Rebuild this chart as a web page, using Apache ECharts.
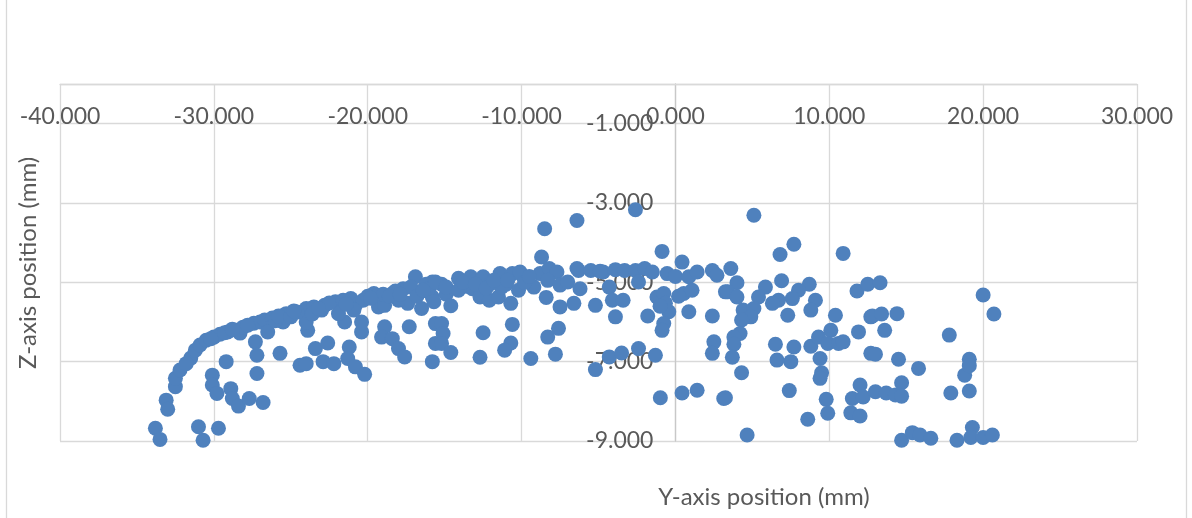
<!DOCTYPE html>
<html>
<head>
<meta charset="utf-8">
<script src="https://cdn.jsdelivr.net/npm/echarts@6/dist/echarts.min.js"></script>
<style>html,body{margin:0;padding:0;background:#fff;}#c{width:1192px;height:518px;}</style>
</head>
<body>
<div id="c"></div>
<script>
// Y-axis position (mm) values (horizontal)
const yPosition = [
-33.8,-33.5,-33.1,-33.0,-32.5,-32.5,-32.2,-31.5,-31.2,-30.9,-30.5,-30.0,-29.6,-29.1,-28.5,-28.3,-28.1,-27.4,-27.0,-26.7,-26.2,-26.5,-25.5,-25.3,-27.3,-27.2,-27.2,-25.7,-29.2,-30.1,-30.1,-29.8,-28.9,-28.8,-28.4,-27.7,-26.8,-31.0,-30.7,-29.7,
-31.8,-30.2,-29.3,-28.8,-27.8,-26.0,-25.8,
-24.4,-24.0,-23.4,-22.6,-22.9,-22.2,-21.2,-21.3,-20.8,-20.2,-20.4,-20.4,-21.5,-23.9,-24.0,-25.0,-24.0,-23.0,-22.8,-22.1,-21.9,-21.1,-20.8,-20.3,-19.6,-19.3,-18.9,-18.4,-17.7,-17.4,-16.9,-16.6,-16.5,-15.8,-15.8,-18.9,-19.1,-18.4,-18.0,-17.6,-17.3,-15.8,-15.6,-15.6,
-24.6,-23.5,-22.5,-21.6,-20.0,-19.0,-18.2,-17.2,-16.2,-23.6,-20.9,-18.0,-16.8,-16.0,-14.9,
-24.8,-23.2,-21.4,-19.8,-18.6,-17.9,-16.4,-15.2,-13.6,-12.9,-11.0,-9.9,
-15.2,-15.1,-15.2,-14.6,-14.6,-15.6,-15.7,-14.9,-14.1,-14.1,-13.3,-13.2,-12.5,-12.7,-12.1,-12.0,-11.4,-11.5,-11.3,-10.7,-10.6,-10.1,-10.2,-12.5,-12.7,-10.6,-10.7,-11.1,-9.4,-9.2,-8.7,-8.5,-8.8,-8.2,-7.7,-8.3,-7.5,-8.4,-7.5,-7.0,-6.6,-6.4,-6.4,-7.6,-8.3,-7.8,
-13.8,-13.0,-12.3,-11.8,-10.9,-9.8,-9.5,
-2.6,-0.87,-6.3,-5.5,-4.7,-3.9,-3.3,-2.6,-2.0,-1.5,-2.4,-6.2,-5.2,-4.3,-4.1,-3.4,-3.9,-1.8,-1.2,-0.76,-0.65,-0.43,-0.76,-0.87,-0.54,0.0,0.43,0.87,1.41,0.54,1.08,0.87,2.4,2.7,2.4,3.25,-5.2,-4.3,-3.5,-2.4,-1.3,-0.98,0.43,1.41,3.14,2.5,2.4,
-1.0,0.2,-4.9,
5.1,7.7,6.8,10.9,3.6,4.0,3.4,4.0,5.85,5.4,6.9,8.7,8.0,7.6,6.7,6.3,9.1,8.8,7.3,4.4,5.1,4.9,4.3,4.2,3.8,3.8,3.7,4.3,3.25,4.66,6.5,6.6,7.5,7.7,7.4,8.8,9.3,10.1,9.9,10.4,9.4,9.5,9.4,10.6,10.9,9.8,9.9,8.6,11.8,12.5,11.9,12.0,11.5,12.2,11.4,12.0,12.7,12.7,
13.3,12.8,13.4,14.4,13.6,13.0,14.5,15.8,13.0,13.7,14.3,14.7,14.7,17.8,20.0,20.7,19.1,18.8,17.9,19.1,14.7,15.4,15.9,16.6,18.3,19.3,19.2,20.0,20.6,19.1
];
// Z-axis position (mm) values (vertical)
const zPosition = [
-8.68,-8.96,-7.97,-8.20,-7.63,-7.42,-7.21,-6.91,-6.71,-6.58,-6.46,-6.38,-6.31,-6.25,-6.21,-6.28,-6.13,-6.03,-6.00,-5.95,-5.90,-6.25,-6.00,-5.79,-6.50,-6.84,-7.30,-6.79,-7.00,-7.34,-7.59,-7.80,-7.68,-7.93,-8.12,-7.93,-8.03,-8.64,-8.98,-8.68,
-7.05,-6.42,-6.27,-6.18,-6.08,-5.97,-5.85,
-7.09,-7.05,-6.67,-6.53,-7.00,-7.05,-6.63,-6.92,-7.13,-7.32,-6.25,-6.00,-6.00,-6.21,-6.00,-5.87,-5.66,-5.70,-5.58,-5.49,-5.79,-5.41,-5.58,-5.45,-5.28,-5.62,-5.58,-5.28,-5.16,-5.53,-4.86,-5.24,-5.66,-4.99,-5.37,-6.12,-6.38,-6.42,-6.67,-6.88,-6.12,-7.00,-6.54,-6.04,
-5.75,-5.62,-5.52,-5.45,-5.35,-5.30,-5.22,-5.12,-5.05,-5.80,-5.70,-5.45,-5.35,-5.15,-5.30,
-5.72,-5.66,-5.55,-5.40,-5.35,-5.30,-5.20,-5.05,-5.10,-5.20,-5.05,-4.85,
-6.04,-6.29,-6.54,-6.77,-5.59,-4.99,-5.49,-5.12,-4.90,-5.20,-4.86,-5.16,-4.86,-5.37,-5.45,-5.03,-4.78,-5.37,-5.12,-5.53,-4.78,-4.74,-5.20,-6.27,-6.89,-6.06,-6.53,-6.71,-6.92,-5.12,-4.36,-3.65,-4.78,-4.65,-4.74,-4.95,-5.07,-5.38,-5.62,-4.99,-5.53,-4.65,-3.44,-6.16,-6.38,-6.81,
-5.00,-5.05,-5.15,-4.95,-4.95,-5.00,-4.85,
-3.17,-4.22,-4.70,-4.70,-4.74,-4.68,-4.70,-4.70,-4.65,-4.74,-4.99,-5.16,-5.58,-5.12,-5.45,-5.45,-5.87,-5.85,-5.37,-5.28,-5.53,-5.74,-6.04,-6.21,-4.78,-4.85,-4.49,-4.86,-4.74,-5.28,-5.20,-5.74,-4.70,-4.82,-5.85,-5.24,-7.20,-6.88,-6.78,-6.67,-6.84,-7.91,-7.79,-7.72,-7.93,-6.50,-6.79,
-5.60,-5.35,-4.72,
-3.31,-4.04,-4.30,-4.27,-4.65,-5.01,-5.24,-5.37,-5.12,-5.37,-4.96,-5.05,-5.20,-5.41,-5.45,-5.53,-5.45,-5.70,-5.83,-5.70,-5.66,-5.87,-5.95,-6.29,-6.38,-6.56,-6.89,-7.28,-7.91,-8.85,-6.56,-6.96,-7.00,-6.63,-7.73,-6.61,-6.38,-6.21,-6.54,-5.83,-6.92,-7.28,-7.42,-6.54,-6.50,-7.95,-8.30,-8.45,-5.22,-5.05,-6.25,-7.59,-7.93,-7.89,-8.29,-8.37,-5.87,-6.79,
-5.01,-5.85,-5.80,-5.79,-6.21,-6.81,-6.94,-7.17,-7.76,-7.79,-7.84,-7.53,-7.87,-6.33,-5.32,-5.80,-6.94,-7.34,-7.79,-7.74,-8.98,-8.79,-8.85,-8.93,-8.98,-8.66,-8.91,-8.91,-8.85,-7.10
];
const xTicks = { min: -40, max: 30, step: 10 };
const zTicks = { min: -9, max: 0, step: 2 };
const xTitle = 'Y-axis position (mm)';
const zTitle = 'Z-axis position (mm)';

const points = yPosition.map((v, i) => [v, zPosition[i]]);
const FONT = 'Lato, "Open Sans", sans-serif';
const GRID_LEFT = 60, GRID_RIGHT = 55;
const plotW = 1192 - GRID_LEFT - GRID_RIGHT;
// place the vertical axis where x = 0, as in the reference
const yAxisOffset = -plotW * (0 - xTicks.min) / (xTicks.max - xTicks.min);

const chart = echarts.init(document.getElementById('c'), null, { renderer: 'canvas' });
chart.setOption({
  animation: false,
  backgroundColor: '#ffffff',
  grid: { left: GRID_LEFT, right: GRID_RIGHT, top: 84, bottom: 77, containLabel: false, outerBoundsMode: 'none' },
  xAxis: {
    type: 'value', position: 'top',
    min: xTicks.min, max: xTicks.max, interval: xTicks.step,
    axisLine: { show: true, onZero: false, lineStyle: { color: '#d9d9d9', width: 1.3 } },
    axisTick: { show: false },
    axisLabel: { inside: true, margin: 21, color: '#595959', fontSize: 23, fontFamily: FONT,
      formatter: v => v.toFixed(3) },
    splitLine: { show: true, lineStyle: { color: '#d9d9d9', width: 1.3 } }
  },
  yAxis: {
    type: 'value', position: 'left', offset: yAxisOffset,
    min: zTicks.min, max: zTicks.max, interval: zTicks.step,
    axisLine: { show: true, onZero: false, lineStyle: { color: '#c8c8c8', width: 1.3 } },
    axisTick: { show: false },
    axisLabel: { margin: 22, color: '#595959', fontSize: 23, fontFamily: FONT, showMaxLabel: false,
      formatter: v => v.toFixed(3) },
    splitLine: { show: true, lineStyle: { color: '#d9d9d9', width: 1.3 } }
  },
  series: [{
    type: 'scatter',
    data: points,
    symbol: 'circle',
    symbolSize: 15,
    itemStyle: { color: '#4f81bd', opacity: 1 },
    z: 3
  }],
  graphic: [
    { type: 'line', shape: { x1: 6.5, y1: 0, x2: 6.5, y2: 518 }, style: { stroke: '#d9d9d9', lineWidth: 1.3 }, silent: true },
    { type: 'line', shape: { x1: 1186.5, y1: 0, x2: 1186.5, y2: 518 }, style: { stroke: '#d9d9d9', lineWidth: 1.3 }, silent: true },
    { type: 'text', x: 764, y: 497, style: { text: xTitle, fill: '#595959', font: '24px ' + FONT, align: 'center', verticalAlign: 'middle' } },
    { type: 'text', x: 28, y: 263, rotation: Math.PI / 2, style: { text: zTitle, fill: '#595959', font: '24px ' + FONT, align: 'center', verticalAlign: 'middle' } }
  ]
});
</script>
</body>
</html>
